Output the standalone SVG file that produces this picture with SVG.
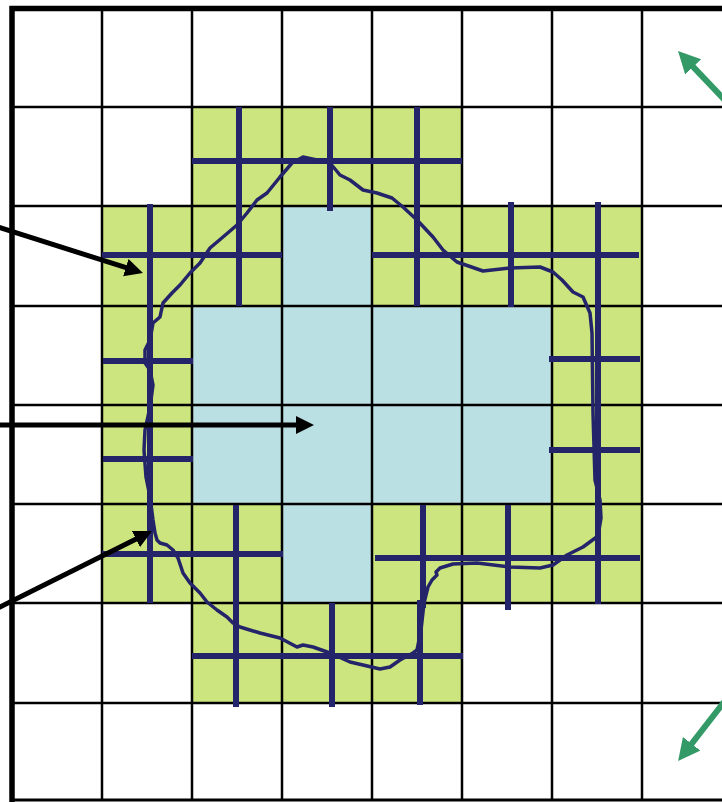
<svg xmlns="http://www.w3.org/2000/svg" width="722" height="802" viewBox="0 0 722 802">
<defs>
<style>
.g{fill:#CDE57E}
.b{fill:#BBE0E3}
.grid{stroke:#000;stroke-width:2.5;fill:none}
.nv{stroke:#24246A;stroke-width:6;fill:none}
.cv{stroke:#24246A;stroke-width:3.5;fill:none;stroke-linejoin:round;stroke-linecap:round}
.ab{stroke:#000;stroke-width:5;fill:none}
.ag{stroke:#339966;stroke-width:6;fill:none}
</style>
<marker id="mb" markerUnits="userSpaceOnUse" markerWidth="20" markerHeight="20" refX="2" refY="9" orient="auto">
<path d="M0,0 L18,9 L0,18 Z" fill="#000"/>
</marker>
<marker id="mg" markerUnits="userSpaceOnUse" markerWidth="24" markerHeight="24" refX="2" refY="11" orient="auto">
<path d="M0,0 L22,11 L0,22 Z" fill="#339966"/>
</marker>
</defs>
<rect x="0" y="0" width="722" height="802" fill="#fff"/>
<g id="cells">
<rect class="g" x="192" y="107" width="270" height="99"/>
<rect class="g" x="102" y="206" width="180" height="100"/>
<rect class="b" x="282" y="206" width="90" height="100"/>
<rect class="g" x="372" y="206" width="270" height="100"/>
<rect class="g" x="102" y="306" width="90" height="198"/>
<rect class="b" x="192" y="306" width="360" height="198"/>
<rect class="g" x="552" y="306" width="90" height="198"/>
<rect class="g" x="102" y="504" width="180" height="99"/>
<rect class="b" x="282" y="504" width="90" height="99"/>
<rect class="g" x="372" y="504" width="270" height="99"/>
<rect class="g" x="192" y="603" width="270" height="100"/>
</g>
<g id="grid">
<path class="grid" d="M102,8V800 M192,8V800 M282,8V800 M372,8V800 M462,8V800 M552,8V800 M642,8V800"/>
<path class="grid" d="M12,107H722 M12,206H722 M12,306H722 M12,405H722 M12,504H722 M12,603H722 M12,703H722"/>
<path d="M12,800H722" stroke="#000" stroke-width="3"/>
<path d="M9.5,8.5H722 M12,6V802" stroke="#000" stroke-width="5.5" fill="none"/>
</g>
<g id="crosses">
<path class="nv" d="M192,161H462 M239,107V306 M330,107V211 M417,107V306"/>
<path class="nv" d="M102,255H282 M150,204V603"/>
<path class="nv" d="M372,255H639 M511,202V307 M598,202V604"/>
<path class="nv" d="M103,361H193 M103,459H193"/>
<path class="nv" d="M549,359H640 M549,450H640"/>
<path class="nv" d="M102,554H283 M236,505V707"/>
<path class="nv" d="M192,656H463 M332,603V707"/>
<path class="nv" d="M375,558H640 M423,505V608 M420,600V705 M508,505V610"/>
</g>
<g id="contour">
<path class="cv" d="M303,157 L317,160 L330,163 L340,175 L350,180 L363,190 L377,193 L392,198 L403,207 L417,220 L433,237 L443,250 L457,262 L483,271 L510,268 L540,267 L553,272 L562,280 L573,292 L583,297 L590,313 L592,333 L593,413 L595,480 L600,500 L601,518 L598,536 L583,547 L567,555 L553,565 L540,568 L510,567 L477,563 L453,564 L440,568 L436,572 L437,575 L432,580 L428,587 L424,603 L421,630 L417,650 L413,653 L400,660 L390,667 L380,669 L363,665 L350,662 L330,653 L313,647 L303,645 L297,647 L280,638 L260,633 L240,627 L233,623 L227,617 L217,610 L207,602 L200,593 L190,583 L183,573 L178,558 L173,550 L167,545 L160,543 L157,540 L155,533 L153,520 L150,497 L146,477 L144,450 L145,430 L150,407 L153,385 L150,370 L145,363 L145,350 L150,340 L153,323 L160,317 L163,303 L172,293 L180,285 L190,273 L200,263 L210,248 L223,237 L237,225 L247,213 L257,200 L267,193 L280,177 L292,163 Z"/>
</g>
<g id="connectors">
<path class="ab" d="M-2,227 L127.7,268.2" marker-end="url(#mb)"/>
<path class="ab" d="M-2,425 L298,425" marker-end="url(#mb)"/>
<path class="ab" d="M-2,608 L137.7,538.2" marker-end="url(#mb)"/>
<path class="ag" d="M740,116 L691.8,65.4" marker-end="url(#mg)"/>
<path class="ag" d="M735,688 L690.4,745.3" marker-end="url(#mg)"/>
</g>
</svg>
